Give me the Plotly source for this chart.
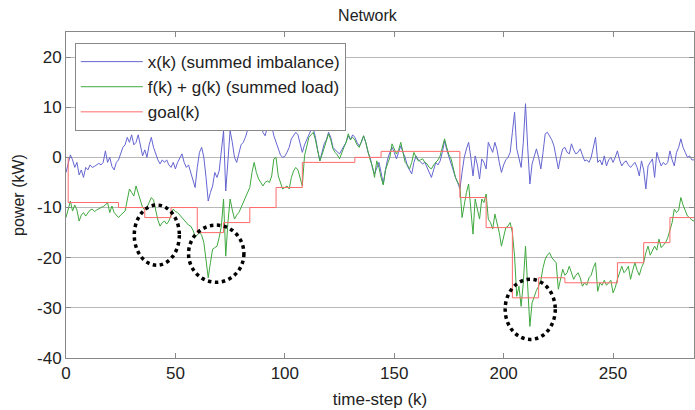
import plotly.graph_objects as go

# ---- data ----
imbalance = [
 -3, -1.5, 0.5, -0.5, -2, -1, -3.5, -2.5, -4, -2, -2.5, -1.5, -2, -1.8, -1.5, -1.2, -1.5, -1, 1.3, -1,
 0, -1.8, -2.5, -1, -0.5, 1, 2, 2.5, 4, 3, 4.5, 2.5, 3, 4.5, 2, 0.3, 1.5, 0, 2.5, 4,
 2, 0.5, -0.5, -1.3, -0.5, -1, -0.5, -1.5, -2, -1, -2.3, -1, 0, 0.7, -1, -2, -1.5, -3, -4.5, -6,
 -2, 1, 2, 0, -4, -8.7, -7, -5.7, -3, -4, -2.7, 1, 5.3, -6.7, 0, 5.3, 3, 0, -1, 1,
 2.5, 3, 4, 5.5, 7.7, 6.5, 5.7, 6, 7.5, 7, 5, 4.3, 6, 7, 6.3, 4.3, 3, 1.5, 0.5, 0,
 0.2, 1, 2, 3.7, 4.5, 5, 4.5, 2.5, 1, 2.5, 3.5, 4.7, 5.5, 5.7, 4, 1.5, -0.7, 1, 2.7, 3.5,
 5, 4, 2, 1.5, 1, 0.7, 1.5, 2.3, 3, 4.3, 3.5, 4.5, 4, 3, 2.3, 3, 4.3, 3, 1, 0,
 -2, -3.3, -2, -1, -3, -5.3, -2.5, -0.3, 1, 2, 1, -0.3, 1, 2.3, 1, 0, -1.7, -2.5, -3.3, -1,
 0.3, -0.5, -1, -1.3, -1, -2, -3, -4, -2.5, -1, -1.5, -0.7, 1, 3.3, 1.5, 0, -1, -2.5, -4, -5,
 -6.3, -3, 0, 1.7, 3, 0, -3.7, 0.3, -1.5, -4.3, -0.3, -1, -2.3, 3, 2, 1, 3, 1.5, -1, -3,
 -1.5, -0.5, 0, 1, 5, 9, 1.7, -0.5, -2, 3, 10.7, 2, -5.3, -1.3, 0, 1.7, 0, -2.3, 1, 4.7,
 5, 4.3, 3.5, 2.3, 0, -2.3, 0, 1.7, 2, 1, 0.7, 2.7, 1.5, 0.7, 1, 1.7, 0.5, -0.7, -0.5, -1,
 0, 1.7, 4, -1, -0.5, -1.5, 0.3, -1.7, -0.5, 0, -1, 0, 1.3, -0.5, -1.7, -1, -0.7, -1.5, -2, -1.5,
 -1, -2, -3.7, -0.7, -2.5, -6.3, -1.7, -1, -0.3, -4, 1, -0.5, -1.7, -1, -1.5, -1, 1.3, -0.5, -1.7, 1,
 2, 3.7, 2, 1, 0, 0.3, -0.5, -0.5,
]

load = [
 -12, -10, -8.7, -10.7, -9.5, -10.5, -12.7, -11.5, -11, -11.7, -11, -10.5, -10.3, -10.8, -10.5, -10.2, -10, -9.8, -9.5, -9,
 -11, -9.7, -11, -11.5, -12, -11.5, -11, -10.7, -8.5, -6.3, -7, -7.7, -5.7, -7.3, -8.5, -10, -10.5, -10, -9, -8,
 -8.5, -10.5, -12.5, -13.7, -13, -12.7, -13.3, -12.7, -11.5, -10.3, -10.8, -11, -11.5, -12, -12.3, -13, -13.5, -13.7, -14.5, -15.7,
 -15.5, -15, -15.5, -17, -20, -24, -21, -18.3, -18, -17.7, -16, -13.7, -8.3, -19.7, -13, -8.3, -10.5, -12.3, -11.5, -11,
 -10, -9, -8, -7, -6, -3, -1, -3, -4.3, -5, -5.7, -5, -4.7, -5, -3.7, -0.3, 0, -3.7, -5, -6.3,
 -6, -5.7, -6.3, -4, -2.7, -2, -2.5, -4, -5.7, 0.3, 2.3, 4, 4.5, 5, 3.5, 1, -0.7, 0.5, 2, 3.5,
 4.7, 3.5, 1.7, 1, 0.5, -0.3, 1, 2, 3, 4.7, 3.5, 4, 3.5, 2.5, 2, 3, 4.3, 3, 1, -0.5,
 -1.7, -4, -0.7, -2, -4, -5.5, -2.5, -1, 0, 2.7, 1.5, 0.7, 1.5, 3, 1, -1, -1.5, -2.3, -1, 1,
 0, -0.7, -0.5, -0.3, -1, -1.3, -2, -2.3, -1.5, -1, -0.5, 0.3, 2, 3.7, 2, 0.5, -0.3, -2, -4, -5,
 -5.7, -12, -9, -7, -5.3, -10, -15.3, -8.3, -10, -12.3, -8.3, -9, -7.3, -12.3, -13, -14.3, -11.3, -13, -15, -17.7,
 -15.5, -14, -13.7, -13, -15, -19.7, -27.7, -25.7, -29.7, -25, -17.7, -26, -33.7, -29, -27.7, -26.5, -25.7, -24.5, -22, -20.3,
 -19.5, -19, -20, -20.5, -21, -26.3, -24, -22.3, -23.5, -23, -21.7, -23, -24.3, -23.5, -23, -24, -25.7, -25, -25.5, -24,
 -23.5, -22, -21, -26.7, -25, -25.5, -24.5, -25.5, -25, -24.5, -27, -26, -24.3, -23, -21.7, -23, -22.5, -21.7, -24.3, -22.5,
 -21, -22.5, -23.5, -22, -21, -19, -17.7, -19.5, -18.5, -17.7, -18.5, -16.3, -18, -17.5, -17, -16, -14.3, -13, -10.3, -11,
 -10.5, -8, -9.5, -10.5, -11.7, -12, -12.5, -12.7,
]

goal_k = [0, 1, 24, 36, 48, 60, 72, 84, 96, 108, 132, 144, 180, 192, 204, 216, 228, 252, 264, 276, 287]
goal_v = [0, -9, -10, -12, -10, -15, -13, -10, -6, -1, 0, 1.2, -8, -14, -28, -24, -25, -21, -17, -12, -12]

steps = list(range(len(imbalance)))

series_names = ["x(k) (summed imbalance)", "f(k) + g(k) (summed load)", "goal(k)"]

x_ticks = [0, 50, 100, 150, 200, 250]
y_ticks = [-40, -30, -20, -10, 0, 10, 20]
y_tick_text = ["-40", "-30", "-20", "-10", "0", "10", "20"]

# dotted circles (data coords: k0, k1, v0, v1)
circles = [(31.2, 51.8, -9.5, -21.5), (56, 81.3, -13.5, -24.9), (200.7, 223.6, -24.3, -36.3)]

FONT = "Liberation Sans, Arial, Helvetica, sans-serif"

fig = go.Figure()
fig.add_trace(go.Scatter(x=steps, y=imbalance, mode="lines", name=series_names[0],
                         line=dict(color="#6565d2", width=1)))
fig.add_trace(go.Scatter(x=steps, y=load, mode="lines", name=series_names[1],
                         line=dict(color="#3fa83f", width=1)))
fig.add_trace(go.Scatter(x=goal_k, y=goal_v, mode="lines", name=series_names[2],
                         line=dict(color="#ff6b6b", width=1, shape="hv")))

for (a, b, c, d) in circles:
    fig.add_shape(type="circle", xref="x", yref="y", x0=a, x1=b, y0=d, y1=c,
                  line=dict(color="black", width=3.5, dash="dot"))

fig.update_layout(
    width=695, height=410,
    margin=dict(l=66, r=1, t=32, b=52),
    paper_bgcolor="white", plot_bgcolor="white",
    font=dict(family=FONT, size=16, color="#222"),
    title=dict(text="Network", x=0.48, xref="paper", y=0.963, yanchor="middle",
               font=dict(size=16, color="#222")),
    showlegend=True,
    legend=dict(x=0.014, y=0.966, xanchor="left", yanchor="top",
                bgcolor="white", bordercolor="#888", borderwidth=1,
                font=dict(size=17, color="#222"), tracegroupgap=0, itemwidth=62),
)

fig.update_xaxes(range=[0, 287], tickvals=x_ticks,
                 showgrid=False, zeroline=False,
                 showline=True, linecolor="#888", linewidth=1, mirror="ticks",
                 ticks="inside", ticklen=5, tickcolor="#888",
                 tickfont=dict(size=17),
                 title=dict(text="time-step (k)", standoff=10, font=dict(size=17)))
fig.update_yaxes(range=[-40, 25], tickvals=y_ticks, ticktext=y_tick_text,
                 showgrid=True, gridcolor="#b8b8b8", gridwidth=1, zeroline=False,
                 showline=True, linecolor="#888", linewidth=1, mirror="ticks",
                 ticks="inside", ticklen=5, tickcolor="#888",
                 tickfont=dict(size=17),
                 title=dict(text="power (kW)", standoff=8, font=dict(size=16)))

fig.write_html("out.html")
